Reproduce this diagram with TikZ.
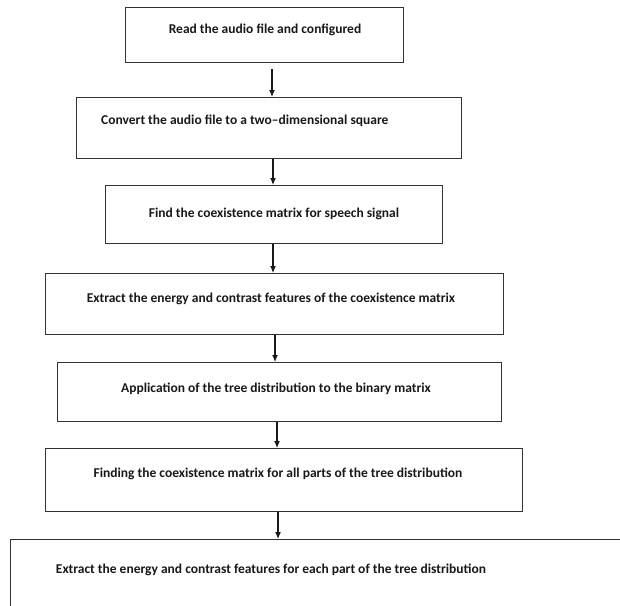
\documentclass[tikz,border=0pt]{standalone}
\usepackage{fontspec}
\setmainfont{Carlito}
\usetikzlibrary{arrows.meta}
\begin{document}
\begin{tikzpicture}[x=1pt,y=-1pt,
  box/.style={draw=black!80,line width=1.1pt,inner sep=0pt,anchor=north west},
  txt/.style={font=\bfseries\fontsize{13.5}{16}\selectfont,inner sep=0pt,anchor=base,text=black!90},
  arr/.style={-{Latex[length=7pt,width=6pt]},line width=1.1pt,black!90}]
\clip (0,0) rectangle (620,605);
\fill[white] (0,0) rectangle (620,605);
\node[box,minimum width=278pt,minimum height=55pt] (b1) at (125,7) {};
\node[box,minimum width=385pt,minimum height=61pt] (b2) at (76,97) {};
\node[box,minimum width=337pt,minimum height=58pt] (b3) at (105,185) {};
\node[box,minimum width=458pt,minimum height=61pt] (b4) at (45,273) {};
\node[box,minimum width=444pt,minimum height=59pt] (b5) at (57,362) {};
\node[box,minimum width=477pt,minimum height=63pt] (b6) at (45,448) {};
\node[box,minimum width=640pt,minimum height=90pt] (b7) at (10,539) {};
\node[txt] (t1) at (265,33) {Read the audio file and configured};
\node[txt,anchor=base west] (t2) at (101,124) {Convert the audio file to a two–dimensional square};
\node[txt] (t3) at (274,217) {Find the coexistence matrix for speech signal};
\node[txt] (t4) at (271,302) {Extract the energy and contrast features of the coexistence matrix};
\node[txt] (t5) at (276,392) {Application of the tree distribution to the binary matrix};
\node[txt] (t6) at (278,477) {Finding the coexistence matrix for all parts of the tree distribution};
\node[txt] (t7) at (271,573) {Extract the energy and contrast features for each part of the tree distribution};
\coordinate (x1) at (272,0);
\coordinate (x2) at (273,0);
\coordinate (x3) at (273,0);
\coordinate (x4) at (275,0);
\coordinate (x5) at (277,0);
\coordinate (x6) at (278,0);
\draw[arr,shorten <=6pt] (b1.south -| x1) -- (b2.north -| x1);
\draw[arr] (b2.south -| x2) -- (b3.north -| x2);
\draw[arr] (b3.south -| x3) -- (b4.north -| x3);
\draw[arr] (b4.south -| x4) -- (b5.north -| x4);
\draw[arr] (b5.south -| x5) -- (b6.north -| x5);
\draw[arr] (b6.south -| x6) -- (b7.north -| x6);
\end{tikzpicture}
\end{document}
